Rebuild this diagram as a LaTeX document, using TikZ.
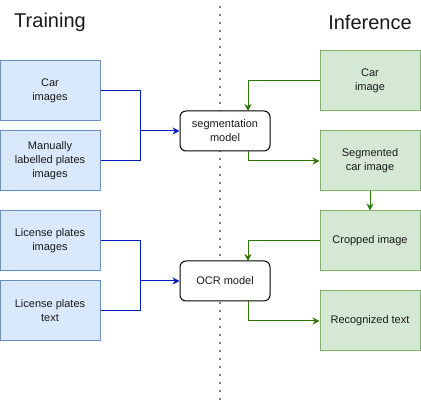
\documentclass[tikz,border=0pt]{standalone}
\usepackage{fontspec}
\setmainfont{Liberation Sans}
\usetikzlibrary{arrows.meta}
\definecolor{bfill}{HTML}{DAE8FC}
\definecolor{bline}{HTML}{6C8EBF}
\definecolor{gfill}{HTML}{D5E8D4}
\definecolor{gline}{HTML}{82B366}
\definecolor{barrow}{HTML}{001DBC}
\definecolor{garrow}{HTML}{2D7600}
\definecolor{txt}{HTML}{1A1A1A}
\begin{document}
\begin{tikzpicture}[x=1pt,y=-1pt,
  every node/.style={text=txt,font=\fontsize{11}{14}\selectfont,align=center,inner sep=0pt},
  trainbox/.style={draw=bline,fill=bfill,line width=1pt,minimum width=100pt,minimum height=60pt},
  infbox/.style={draw=gline,fill=gfill,line width=1pt,minimum width=100pt,minimum height=60pt},
  modelbox/.style={draw=black,fill=white,rounded corners=6pt,line width=1pt,minimum width=90pt,minimum height=40pt},
  bconn/.style={draw=barrow,line width=1pt,-{Stealth[length=7pt,width=7pt]}},
  gconn/.style={draw=garrow,line width=1pt,-{Stealth[length=7pt,width=7pt]}},
  title/.style={font=\fontsize{20}{24}\selectfont}
]
\useasboundingbox (0,0) rectangle (421,403);
\draw[black,line width=1.8pt,line cap=round,dash pattern=on 0pt off 8pt] (220,7) -- (220,403);
\node[title] (ttrain) at (50,22) {Training};
\node[title] (tinf) at (370,22) {Inference};

\node[trainbox] (car) at (50,91) {Car\\images};
\node[trainbox] (man) at (50,161) {Manually\\labelled plates\\images};
\node[trainbox] (lpi) at (50,241) {License plates\\images};
\node[trainbox] (lpt) at (50,311) {License plates\\text};

\node[modelbox] (seg) at (225,131) {segmentation\\model};
\node[modelbox] (ocr) at (225,281) {OCR model};

\node[infbox] (cari) at (370,81) {Car\\image};
\node[infbox] (segi) at (370,161) {Segmented\\car image};
\node[infbox] (crop) at (370,241) {Cropped image};
\node[infbox] (rec) at (370,321) {Recognized text};

\coordinate (bj1) at (140,131);
\coordinate (bj2) at (140,281);
\draw[draw=barrow,line width=1pt] (car.east) -| (bj1) (man.east) -| (bj1);
\draw[bconn] (bj1) -- (seg.west);
\draw[draw=barrow,line width=1pt] (lpi.east) -| (bj2) (lpt.east) -| (bj2);
\draw[bconn] (bj2) -- (ocr.west);

\draw[gconn] (cari.west) -| (248,111);
\draw[gconn] (248,151) |- (segi.west);
\draw[gconn] (segi.south) -- (crop.north);
\draw[gconn] (crop.west) -| (248,261);
\draw[gconn] (248,301) |- (rec.west);
\end{tikzpicture}
\end{document}
